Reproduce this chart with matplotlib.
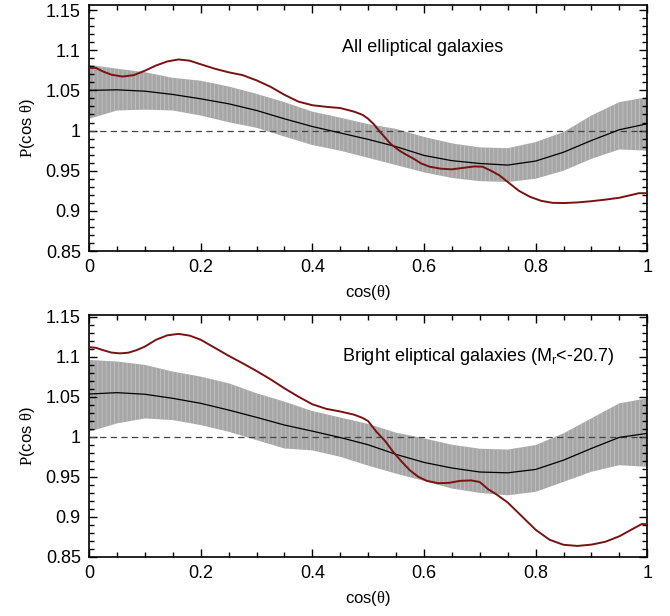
import numpy as np
import matplotlib
matplotlib.use('Agg')
import matplotlib.pyplot as plt
from matplotlib.ticker import MultipleLocator

plt.rcParams['font.family'] = ['Liberation Sans', 'DejaVu Sans']
plt.rcParams['mathtext.fontset'] = 'custom'
plt.rcParams['mathtext.rm'] = 'Liberation Sans'
plt.rcParams['mathtext.cal'] = 'Liberation Serif'
plt.rcParams['hatch.linewidth'] = 0.6

# measured distributions (red curves), sampled more densely where they bend
x_obs_all = [0.0, 0.012, 0.025, 0.04, 0.06, 0.08, 0.1, 0.12, 0.14, 0.16, 0.18, 0.2,
             0.225, 0.25, 0.275, 0.3, 0.325, 0.35, 0.375, 0.4, 0.425, 0.45, 0.475,
             0.49, 0.5, 0.51, 0.52, 0.53, 0.54, 0.555, 0.565, 0.58, 0.595, 0.61,
             0.63, 0.65, 0.67, 0.69, 0.705, 0.72, 0.735, 0.75, 0.77, 0.79, 0.81,
             0.83, 0.85, 0.875, 0.9, 0.925, 0.95, 0.97, 0.985, 1.0]
obs_all = [1.078, 1.078, 1.0735, 1.0695, 1.0672, 1.069, 1.0745, 1.081, 1.086, 1.0885,
           1.087, 1.0825, 1.077, 1.0725, 1.069, 1.0625, 1.0545, 1.0445, 1.036, 1.0315,
           1.0295, 1.028, 1.0235, 1.0195, 1.0146, 1.008, 0.9993, 0.9915, 0.9836, 0.9755,
           0.9712, 0.9655, 0.959, 0.955, 0.9525, 0.9517, 0.9535, 0.9553, 0.955, 0.950,
           0.9443, 0.936, 0.925, 0.9175, 0.9125, 0.910, 0.9097, 0.9105, 0.912, 0.914,
           0.9163, 0.9195, 0.922, 0.922]

x_obs_bright = [0.0, 0.012, 0.025, 0.04, 0.055, 0.07, 0.085, 0.1, 0.12, 0.14, 0.16,
                0.18, 0.2, 0.225, 0.25, 0.275, 0.3, 0.325, 0.35, 0.375, 0.4, 0.425,
                0.45, 0.475, 0.49, 0.5, 0.515, 0.53, 0.545, 0.56, 0.575, 0.59, 0.605,
                0.625, 0.645, 0.665, 0.685, 0.7, 0.715, 0.73, 0.75, 0.775, 0.8, 0.825,
                0.85, 0.875, 0.9, 0.925, 0.95, 0.975, 0.99, 1.0]
obs_bright = [1.1117, 1.111, 1.108, 1.105, 1.104, 1.1048, 1.108, 1.1125, 1.121, 1.1265,
              1.1283, 1.1262, 1.121, 1.111, 1.101, 1.0917, 1.082, 1.0717, 1.0604, 1.050,
              1.0405, 1.0348, 1.0315, 1.0275, 1.0235, 1.0195, 1.006, 0.995, 0.981, 0.969,
              0.958, 0.950, 0.945, 0.942, 0.9425, 0.945, 0.9455, 0.9435, 0.9345, 0.928,
              0.918, 0.901, 0.884, 0.8715, 0.8652, 0.8638, 0.8654, 0.869, 0.8758, 0.8854,
              0.891, 0.891]

# mock catalogue mean and 1-sigma spread
x_mock = [0.0, 0.05, 0.1, 0.15, 0.2, 0.25, 0.3, 0.35, 0.4, 0.45, 0.5,
          0.55, 0.6, 0.65, 0.7, 0.75, 0.8, 0.85, 0.9, 0.95, 1.0]

mean_all = [1.050, 1.0507, 1.049, 1.0449, 1.0395, 1.0333, 1.025, 1.0146, 1.005, 0.997,
            0.989, 0.980, 0.969, 0.9625, 0.959, 0.957, 0.962, 0.973, 0.9876, 1.001, 1.0084]
upper_all = [1.0818, 1.077, 1.0726, 1.0656, 1.062, 1.0548, 1.0457, 1.0353, 1.0235, 1.016,
             1.008, 1.002, 0.992, 0.984, 0.979, 0.978, 0.9856, 0.998, 1.0187, 1.0353, 1.0415]
lower_all = [1.0146, 1.025, 1.026, 1.025, 1.0187, 1.0104, 1.0034, 0.9925, 0.982, 0.975,
             0.966, 0.957, 0.948, 0.941, 0.937, 0.936, 0.940, 0.950, 0.9648, 0.9765, 0.975]

mean_bright = [1.0533, 1.055, 1.053, 1.0479, 1.0417, 1.0333, 1.0242, 1.0146, 1.007, 0.999,
               0.990, 0.978, 0.968, 0.961, 0.956, 0.955, 0.9592, 0.9708, 0.9854, 0.9992, 1.0042]
upper_bright = [1.0958, 1.0938, 1.0896, 1.0812, 1.075, 1.0667, 1.0542, 1.0438, 1.032, 1.024,
                1.016, 1.005, 0.998, 0.990, 0.985, 0.984, 0.9896, 1.0042, 1.0229, 1.0417, 1.0479]
lower_bright = [1.0063, 1.0167, 1.0229, 1.0208, 1.0146, 1.0063, 0.9958, 0.9854, 0.983, 0.975,
                0.964, 0.954, 0.945, 0.9354, 0.930, 0.927, 0.9313, 0.9437, 0.9563, 0.9646, 0.9625]

panels = [
    (x_obs_all, obs_all, mean_all, upper_all, lower_all,
     'All elliptical galaxies', 1.156),
    (x_obs_bright, obs_bright, mean_bright, upper_bright, lower_bright,
     r'Bright eliptical galaxies (M$_{\mathrm{r}}$<-20.7)', 1.152),
]


def draw_panel(ax, x_obs, obs, mean, upper, lower, title, ytop):
    ax.fill_between(x_mock, lower, upper, facecolor='#a6a6a6', edgecolor='#c2c2c2',
                    hatch='||||', linewidth=0, zorder=1)
    ax.axhline(1.0, color='#444444', lw=0.9, dashes=(5, 3.5), zorder=2)
    ax.plot(x_mock, mean, color='black', lw=0.9, zorder=3)
    ax.plot(x_obs, obs, color='#7a1212', lw=1.4, zorder=4)

    ax.set_xlim(0, 1)
    ax.set_ylim(0.85, ytop)
    ax.xaxis.set_minor_locator(MultipleLocator(0.05))
    ax.yaxis.set_minor_locator(MultipleLocator(0.01))
    ax.set_xticks([0, 0.2, 0.4, 0.6, 0.8, 1.0])
    ax.set_xticklabels(['0', '0.2', '0.4', '0.6', '0.8', '1'])
    ax.set_yticks([0.85, 0.9, 0.95, 1.0, 1.05, 1.1, 1.15])
    ax.set_yticklabels(['0.85', '0.9', '0.95', '1', '1.05', '1.1', '1.15'])
    ax.tick_params(which='both', direction='in', top=True, right=True,
                   labelsize=13, width=1.0)
    ax.tick_params(which='major', length=6, pad=6)
    ax.tick_params(which='minor', length=3.5)
    for sp in ax.spines.values():
        sp.set_linewidth(1.2)

    ax.set_xlabel(r'cos($\mathcal{\theta}$)', fontsize=12, labelpad=5)
    ax.set_ylabel(r'$\mathcal{P}$(cos $\mathcal{\theta}$)', fontsize=12, labelpad=6)
    ax.text(0.453, 0.83, title, transform=ax.transAxes, fontsize=13,
            ha='left', va='center')


fig = plt.figure(figsize=(6.7, 6.16), dpi=100)
ax_top = fig.add_axes([0.133, 0.5925, 0.833, 0.399])
ax_bot = fig.add_axes([0.133, 0.0958, 0.833, 0.393])

for ax, panel in zip([ax_top, ax_bot], panels):
    draw_panel(ax, *panel)

fig.savefig('out.png', dpi=100)
